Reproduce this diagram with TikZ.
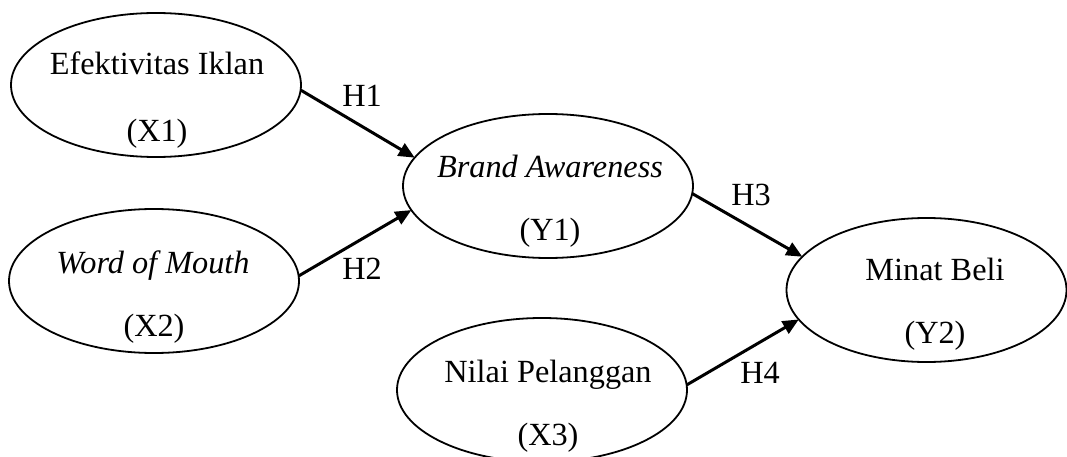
\documentclass[tikz,border=0pt]{standalone}
\usepackage{fontspec}
\setmainfont{Liberation Serif}
\usetikzlibrary{shapes.geometric,arrows.meta}
\begin{document}
\begin{tikzpicture}[x=1pt,y=-1pt,
  ell/.style={ellipse,draw,line width=1.8pt,inner sep=0pt,outer sep=0pt,minimum width=290pt,minimum height=144pt},
  txt/.style={anchor=base,inner sep=0pt,font=\fontsize{32.3}{38}\selectfont},
  arr/.style={line width=3pt,-{Triangle[length=16pt,width=14pt]}}]
\useasboundingbox (0,0) rectangle (1067,457);
\node[ell] (x1) at (156,85) {};
\node[ell] (x2) at (154,281) {};
\node[ell] (y1) at (548,186) {};
\node[ell] (x3) at (542,390) {};
\node[ell,minimum width=280pt] (y2) at (926.5,290) {};
\node[txt] (x1a) at (157,75) {Efektivitas Iklan};
\node[txt] (x1b) at (157,142) {(X1)};
\node[txt] (x2a) at (153,273) {\itshape Word of Mouth};
\node[txt] (x2b) at (154,336) {(X2)};
\node[txt] (y1a) at (550,178) {\itshape Brand Awareness};
\node[txt] (y1b) at (550,240) {(Y1)};
\node[txt] (x3a) at (548,382) {Nilai Pelanggan};
\node[txt] (x3b) at (548,445) {(X3)};
\node[txt] (y2a) at (935,280) {Minat Beli};
\node[txt] (y2b) at (935,343) {(Y2)};
\draw[arr] (x1.-2) -- (y1.168);
\draw[arr] (x2.2) -- (y1.190);
\draw[arr] (y1.-3) -- (y2.165);
\draw[arr] (x3.2) -- (y2.193);
\node[txt] (h1) at (362,107) {H1};
\node[txt] (h2) at (362,279) {H2};
\node[txt] (h3) at (751,205) {H3};
\node[txt] (h4) at (760,383) {H4};
\end{tikzpicture}
\end{document}
